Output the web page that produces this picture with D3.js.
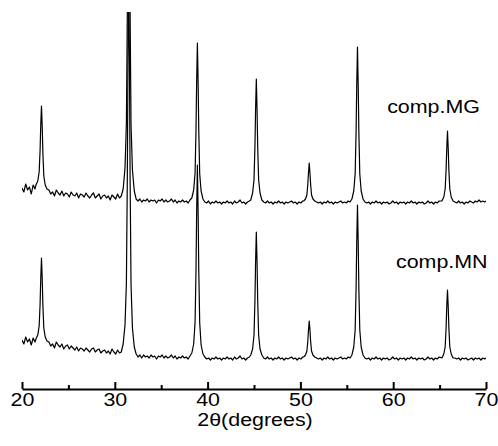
<!DOCTYPE html>
<html>
<head>
<meta charset="utf-8">
<script src="https://cdn.jsdelivr.net/npm/d3@7"></script>
<style>
  body { margin: 0; background: #fff; }
  text { font-family: Arial, "Liberation Sans", sans-serif; fill: #000; }
</style>
</head>
<body>
<div id="chart"></div>
<script>
var width = 498; // ancho
var height = 446; // alto

// 2theta sample positions (degrees)
var twoTheta = [
    20.0, 20.2, 20.4, 20.6, 20.8, 21.0, 21.2, 21.4,
    21.5, 21.7, 21.85, 21.95, 22.02, 22.1, 22.18, 22.25, 22.35, 22.5, 22.7,
    22.9, 23.1, 23.3, 23.5, 23.7, 23.9, 24.1, 24.3, 24.5, 24.7,
    24.9, 25.1, 25.3, 25.5, 25.7, 25.9, 26.1, 26.3, 26.5, 26.7,
    26.9, 27.1, 27.3, 27.5, 27.7, 27.9, 28.1, 28.3, 28.5, 28.7,
    28.9, 29.1, 29.3, 29.5, 29.7, 29.9, 30.1, 30.3, 30.5, 30.7,
    30.9, 31.1, 31.25, 31.35, 31.42, 31.5, 31.58, 31.65, 31.75, 31.9, 32.1,
    32.3, 32.5, 32.7, 32.9, 33.1, 33.3, 33.5, 33.7, 33.9, 34.1,
    34.3, 34.5, 34.7, 34.9, 35.1, 35.3, 35.5, 35.7, 35.9, 36.1,
    36.3, 36.5, 36.7, 36.9, 37.1, 37.3, 37.5, 37.7, 37.9, 38.1,
    38.3, 38.5, 38.65, 38.75, 38.82, 38.9, 38.98, 39.05, 39.15, 39.3, 39.5,
    39.7, 39.9, 40.1, 40.3, 40.5, 40.7, 40.9, 41.1, 41.3, 41.5,
    41.7, 41.9, 42.1, 42.3, 42.5, 42.7, 42.9, 43.1, 43.3, 43.5,
    43.7, 43.9, 44.1, 44.3, 44.5,
    44.65, 44.85, 45.0, 45.1, 45.17, 45.25, 45.33, 45.4, 45.5, 45.65, 45.85,
    46.05, 46.25, 46.45, 46.65, 46.85, 47.05, 47.25, 47.45, 47.65, 47.85,
    48.05, 48.25, 48.45, 48.65, 48.85, 49.05, 49.25, 49.45, 49.65, 49.85,
    50.05, 50.25,
    50.35, 50.55, 50.7, 50.8, 50.87, 50.95, 51.03, 51.1, 51.2, 51.35, 51.55,
    51.75, 51.95, 52.15, 52.35, 52.55, 52.75, 52.95, 53.15, 53.35, 53.55,
    53.75, 53.95, 54.15, 54.35, 54.55, 54.75, 54.95, 55.15, 55.35,
    55.55, 55.75, 55.9, 56.0, 56.07, 56.15, 56.23, 56.3, 56.4, 56.55, 56.75,
    56.95, 57.15, 57.35, 57.55, 57.75, 57.95, 58.15, 58.35, 58.55, 58.75,
    58.95, 59.15, 59.35, 59.55, 59.75, 59.95, 60.15, 60.35, 60.55, 60.75,
    60.95, 61.15, 61.35, 61.55, 61.75, 61.95, 62.15, 62.35, 62.55, 62.75,
    62.95, 63.15, 63.35, 63.55, 63.75, 63.95, 64.15, 64.35, 64.55, 64.75,
    64.95,
    65.25, 65.45, 65.6, 65.7, 65.77, 65.85, 65.93, 66.0, 66.1, 66.25, 66.45,
    66.65, 66.85, 67.05, 67.25, 67.45, 67.65, 67.85, 68.05, 68.25, 68.45,
    68.65, 68.85, 69.05, 69.25, 69.45, 69.65, 69.85, 70.0
];

// intensity (a.u., already stacked) - comp.MG (upper)
var countsMG = [
    198, 194, 202, 196, 199, 192, 201, 197,
    201, 205, 214, 236, 261, 280, 259, 233, 210, 201, 197,
    196, 192, 194, 190, 196, 193, 191, 195, 190, 193,
    192, 189, 194, 191, 190, 193, 188, 192, 191, 189,
    193, 190, 188, 191, 193, 188, 190, 192, 187, 190,
    191, 188, 190, 186, 191, 189, 187, 192, 188, 190,
    197, 218, 263, 374, 497, 600, 495, 372, 261, 216, 195,
    187, 185, 187, 184, 186, 185, 187, 184, 186, 185,
    186, 183, 186, 185, 187, 184, 186, 184, 185, 187,
    184, 186, 183, 185, 184, 186, 184, 185, 183, 186,
    188, 196, 213, 256, 304, 343, 303, 255, 212, 195, 187,
    184, 183, 185, 182, 184, 183, 185, 183, 184, 182,
    184, 183, 185, 183, 184, 182, 185, 183, 184, 186,
    183, 184, 182, 184, 185,
    186, 193, 206, 239, 276, 307, 276, 239, 206, 193, 186,
    184, 183, 185, 183, 184, 182, 184, 183, 185, 183,
    184, 182, 184, 183, 184, 185, 183, 184, 182, 184,
    183, 185,
    185, 187, 191, 202, 213, 223, 213, 202, 191, 187, 185,
    184, 183, 184, 182, 184, 183, 185, 183, 184, 182,
    184, 183, 184, 185, 183, 184, 183, 185, 184,
    187, 195, 212, 254, 300, 339, 300, 254, 212, 195, 187,
    184, 183, 184, 182, 184, 183, 185, 183, 184, 182,
    184, 183, 184, 182, 183, 185, 183, 184, 182, 184,
    183, 184, 182, 184, 183, 185, 183, 184, 182, 184,
    183, 184, 182, 183, 185, 183, 184, 182, 184, 183,
    185,
    185, 189, 197, 216, 237, 255, 237, 216, 197, 189, 185,
    184, 183, 185, 183, 184, 182, 184, 183, 185, 184,
    183, 185, 184, 186, 184, 185, 184, 185
];

// intensity (a.u.) - comp.MN (lower)
var countsMN = [
    46, 42, 49, 44, 47, 41, 48, 44,
    47, 51, 60, 82, 107, 128, 107, 81, 58, 49, 45,
    44, 40, 42, 38, 44, 41, 39, 42, 37, 40,
    41, 37, 40, 38, 36, 39, 35, 38, 37, 35,
    38, 36, 34, 37, 38, 34, 36, 37, 33, 35,
    36, 33, 35, 32, 37, 34, 32, 36, 33, 34,
    42, 61, 103, 208, 324, 420, 323, 206, 101, 58, 39,
    32, 29, 31, 28, 31, 29, 30, 28, 31, 29,
    30, 27, 30, 29, 31, 28, 30, 28, 29, 31,
    28, 30, 27, 29, 28, 30, 28, 29, 27, 30,
    33, 42, 64, 115, 173, 221, 173, 115, 63, 41, 32,
    29, 27, 28, 26, 28, 27, 29, 27, 28, 26,
    28, 27, 29, 27, 28, 26, 29, 27, 28, 30,
    27, 28, 26, 28, 29,
    31, 37, 51, 85, 123, 154, 123, 85, 51, 37, 31,
    28, 27, 29, 27, 28, 26, 28, 27, 29, 27,
    28, 26, 28, 27, 28, 29, 27, 28, 26, 28,
    27, 29,
    29, 31, 35, 45, 56, 65, 56, 45, 35, 31, 29,
    28, 27, 28, 26, 28, 27, 29, 27, 28, 26,
    28, 27, 28, 29, 27, 28, 27, 29, 28,
    31, 39, 56, 97, 143, 181, 143, 97, 56, 39, 31,
    28, 27, 28, 26, 28, 27, 29, 27, 28, 26,
    28, 27, 28, 26, 27, 29, 27, 28, 26, 28,
    27, 28, 26, 28, 27, 29, 27, 28, 26, 28,
    27, 28, 26, 27, 29, 27, 28, 26, 28, 27,
    29,
    28, 32, 39, 58, 79, 96, 79, 58, 39, 32, 28,
    28, 27, 28, 26, 28, 27, 28, 26, 27, 28,
    26, 28, 27, 28, 26, 28, 27, 28
];

var majorTicks = [20, 30, 40, 50, 60, 70];
var minorTicks = [25, 35, 45, 55, 65];
var seriesNames = ["comp.MG", "comp.MN"];
var xLabel = "2\u03b8(degrees)";

var fontSize = 18;
var stretch = 1.19; // el original esta estirado en horizontal

var x = d3.scaleLinear().domain([20, 70]).range([22, 486]);
var y = d3.scaleLinear().domain([-3, 374]).range([389, 12]);

var svg = d3.select("#chart")
    .append("svg")
    .attr("width", width)
    .attr("height", height);

svg.append("defs").append("clipPath")
    .attr("id", "plotclip")
    .append("rect")
    .attr("x", x(20))
    .attr("y", y(374))
    .attr("width", x(70) - x(20))
    .attr("height", y(-3) - y(374));

var line = d3.line()
    .x((d) => x(d[0]))
    .y((d) => y(d[1]));

var traces = [countsMG, countsMN].map((vals) => twoTheta.map((t, i) => [t, vals[i]]));

svg.append("g")
    .attr("clip-path", "url(#plotclip)")
    .selectAll(".trace")
    .data(traces)
    .enter()
    .append("path")
    .attr("class", "trace")
    .attr("d", line)
    .attr("fill", "none")
    .attr("stroke", "#000")
    .attr("stroke-width", 1.2)
    .attr("stroke-linejoin", "round");

// eje x
var axisMajor = d3.axisBottom(x)
    .tickValues(majorTicks)
    .tickSizeInner(-7)
    .tickSizeOuter(0)
    .tickPadding(4)
    .tickFormat(d3.format("d"));

var axisMinor = d3.axisBottom(x)
    .tickValues(minorTicks)
    .tickSizeInner(-4)
    .tickSizeOuter(0)
    .tickFormat("");

var gx = svg.append("g")
    .attr("transform", "translate(0," + y(-3) + ")")
    .call(axisMajor);

svg.append("g")
    .attr("transform", "translate(0," + y(-3) + ")")
    .call(axisMinor)
    .select(".domain").remove();

svg.selectAll(".domain, .tick line")
    .attr("stroke", "#000")
    .attr("stroke-width", 2);

gx.selectAll(".tick text")
    .attr("font-size", fontSize)
    .attr("font-family", "Arial, 'Liberation Sans', sans-serif")
    .attr("fill", "#000")
    .attr("transform", "scale(" + stretch + ",1)");

svg.append("text")
    .attr("transform", "translate(" + (x(45) + 1) + ",426) scale(" + stretch + ",1)")
    .attr("text-anchor", "middle")
    .attr("font-size", fontSize)
    .text(xLabel);

// etiquetas de las series
var labelPos = [[59.35, 273], [60.3, 118]];

svg.selectAll(".series-label")
    .data(seriesNames)
    .enter()
    .append("text")
    .attr("class", "series-label")
    .attr("transform", (d, i) => "translate(" + x(labelPos[i][0]) + "," + y(labelPos[i][1]) + ") scale(" + stretch + ",1)")
    .attr("font-size", fontSize)
    .text((d) => d);
</script>
</body>
</html>
